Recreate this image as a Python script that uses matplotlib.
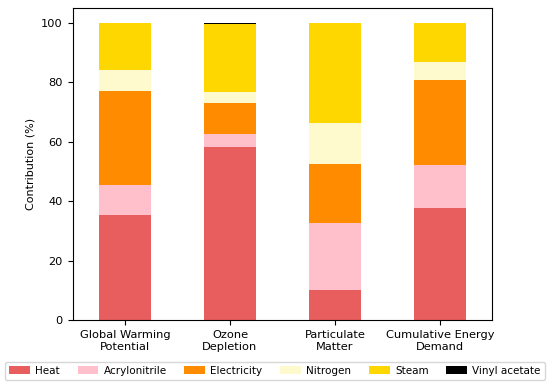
import matplotlib.pyplot as plt
import numpy as np

categories = ["Global Warming\nPotential", "Ozone\nDepletion", "Particulate\nMatter", "Cumulative Energy\nDemand"]
sources = ["Heat", "Acrylonitrile", "Electricity", "Nitrogen", "Steam", "Vinyl acetate"]
colors = ["#E85D5D", "#FFC0CB", "#FF8C00", "#FFFACD", "#FFD700", "#000000"]

heat = [35.3, 58.1, 10.0, 37.8]
acrylonitrile = [10.2, 4.4, 22.5, 14.5]
electricity = [31.6, 10.6, 19.9, 28.3]
nitrogen = [6.9, 3.6, 13.8, 6.1]
steam = [15.7, 22.9, 33.7, 13.0]
vinyl_acetate = [0.3, 0.4, 0.1, 0.3]

data = [heat, acrylonitrile, electricity, nitrogen, steam, vinyl_acetate]

plt.rcParams['font.size'] = 8

fig = plt.figure(figsize=(5.5, 3.83), dpi=100)
ax = fig.add_axes([0.132, 0.164, 0.763, 0.816])

x = np.arange(len(categories))
bottom = np.zeros(len(categories))
for name, vals, c in zip(sources, data, colors):
    ax.bar(x, vals, 0.5, bottom=bottom, color=c, label=name)
    bottom += np.array(vals)

ax.set_xticks(x)
ax.set_xticklabels(categories, fontsize=8.2)
ax.tick_params(labelsize=8.2)
ax.set_ylabel("Contribution (%)", fontsize=8)
ax.set_xlim(-0.5, 3.5)
ax.set_ylim(0, 105)

fig.legend(loc="lower center", ncol=6, bbox_to_anchor=(0.5, 0.0), fontsize=7.5,
           handlelength=2.0, handletextpad=0.5, columnspacing=1.7, borderaxespad=0.3)

fig.savefig("out.png", dpi=100)
